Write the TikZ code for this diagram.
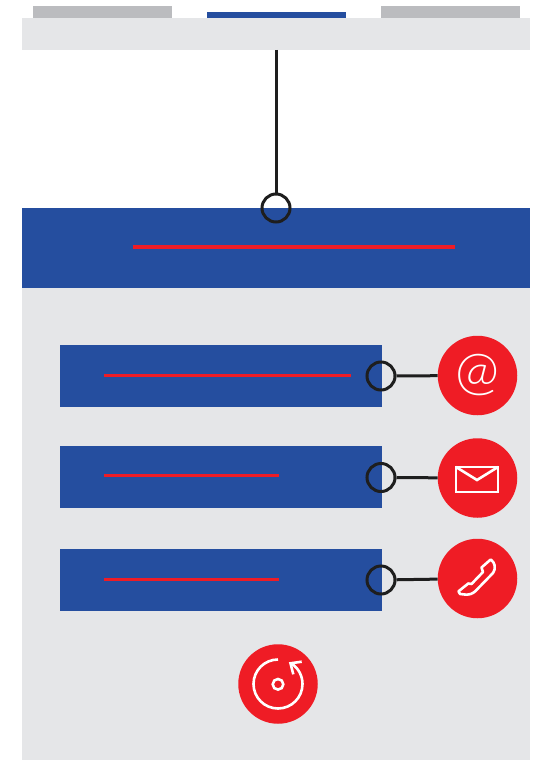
\documentclass[tikz,border=0pt]{standalone}
\usepackage{fontspec}
\setmainfont{Open Sans}
\newfontfamily\atfont{Lato Light}
\definecolor{bluebar}{HTML}{254E9F}
\definecolor{redc}{HTML}{EF1C25}
\definecolor{panel}{HTML}{E5E6E8}
\definecolor{tabgray}{HTML}{BBBCBF}
\definecolor{inkc}{HTML}{1E1E1E}
\tikzset{
  box/.style={draw=none,inner sep=0,outer sep=0,anchor=north west},
  bluebox/.style={box,fill=bluebar,minimum width=322pt,minimum height=62pt},
  underl/.style={draw=redc,line width=3.2pt},
  ring/.style={circle,draw=inkc,line width=3pt,minimum size=28pt,inner sep=0,fill=none},
  badge/.style={circle,fill=redc,draw=none,minimum size=79.5pt,inner sep=0},
  link/.style={draw=inkc,line width=3pt},
  icon/.style={draw=white,line width=2.6pt,line join=miter},
}
\begin{document}
\begin{tikzpicture}[x=1pt,y=-1pt]
\useasboundingbox (0,0) rectangle (538,760);
\fill[white] (0,0) rectangle (538,760);
% tabs
\node[box,fill=tabgray,minimum width=139pt,minimum height=12pt] (tabl) at (33,6) {};
\node[box,fill=bluebar,minimum width=139pt,minimum height=6pt] (tabm) at (207,12) {};
\node[box,fill=tabgray,minimum width=139pt,minimum height=12pt] (tabr) at (381,6) {};
\node[box,fill=panel,minimum width=508pt,minimum height=32pt] (top) at (22,18) {};
% lower panel
\node[box,fill=panel,minimum width=508pt,minimum height=472pt] (low) at (22,288) {};
\node[box,fill=bluebar,minimum width=508pt,minimum height=80pt] (head) at (22,208) {};
% head
\coordinate (hl) at (133,247);
\coordinate (hr) at (455,247);
\draw[underl] (hl) -- (hr);
\node[ring] (r0) at (276,208) {};
\coordinate (topc) at (276,50);
\draw[link] (topc) -- (r0);
% rows
\node[bluebox] (b1) at (60,345) {};
\node[bluebox] (b2) at (60,446) {};
\node[bluebox] (b3) at (60,549) {};
\coordinate (l1a) at (104,375.6); \coordinate (l1b) at (351,375.6);
\coordinate (l2a) at (104,475.6); \coordinate (l2b) at (279,475.6);
\coordinate (l3a) at (104,579.6); \coordinate (l3b) at (279,579.6);
\draw[underl] (l1a) -- (l1b);
\draw[underl] (l2a) -- (l2b);
\draw[underl] (l3a) -- (l3b);
\node[ring] (r1) at (381,376) {};
\node[ring] (r2) at (381,477.5) {};
\node[ring] (r3) at (381,580) {};
\node[badge] (c1) at (477.5,375.5) {};
\node[badge] (c2) at (477.5,478) {};
\node[badge] (c3) at (477.5,578.5) {};
\node[badge] (c4) at (278,684) {};
\draw[link] (r1) -- (c1);
\draw[link] (r2) -- (c2);
\draw[link] (r3) -- (c3);
% at sign
\node[text=white,font=\atfont\fontsize{53pt}{53pt}\selectfont,inner sep=0] (at) at (477.5,375) {@};
% envelope
\draw[icon] (456,467) rectangle (498,492);
\draw[icon] (456,467) -- (477,480) -- (498,467);
% phone
\draw[icon,line join=round] (458.5,591.3) -- (468.3,583.5) -- (471.5,584) -- (483,572) -- (481.5,567.5) -- (490.7,559.5)
  .. controls (493,561.5) and (494.3,563) .. (494.5,565)
  .. controls (495,569) and (494.5,571) .. (493,573)
  -- (475,591.5)
  .. controls (472,594) and (469,594.7) .. (466.7,594.7)
  -- (460,594) -- cycle;
% reload
\draw[icon] (278,659.5) arc[start angle=-90,delta angle=-325,radius=24.5];
\draw[icon] (301.7,661.7) -- (290.5,663.3) -- (293.3,674.3);
\draw[icon] (278,684.3) circle[radius=5.3];
\end{tikzpicture}
\end{document}
